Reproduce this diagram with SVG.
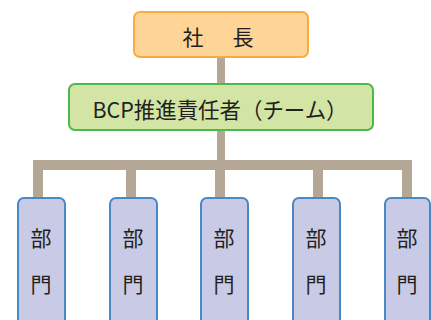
<svg xmlns="http://www.w3.org/2000/svg" width="431" height="320" viewBox="0 0 431 320">
<style>
text{font-family:"Noto Sans CJK JP","Noto Sans",sans-serif;fill:#231f20;text-anchor:middle;dominant-baseline:central}
.con{fill:#b5a795}
.dept rect{fill:#c9cae5;stroke:#4a87c7;stroke-width:2}
.dept text{font-size:21px}
</style>
<rect width="431" height="320" fill="#fff"/>
<g id="connectors">
<rect class="con" x="217" y="57" width="8" height="28"/>
<rect class="con" x="217" y="129" width="8" height="69"/>
<rect class="con" x="33" y="160" width="379" height="10"/>
<rect class="con" x="33" y="160" width="10" height="38"/>
<rect class="con" x="126" y="160" width="10" height="38"/>
<rect class="con" x="215" y="160" width="10" height="38"/>
<rect class="con" x="313" y="160" width="10" height="38"/>
<rect class="con" x="402" y="160" width="10" height="38"/>
</g>
<g id="president">
<rect x="134" y="12" width="174" height="45" rx="6" fill="#fed497" stroke="#f8ab3e" stroke-width="2"/>
<text x="220" y="36" font-size="21" letter-spacing="4">社　長</text>
</g>
<g id="bcp">
<rect x="69" y="84" width="304" height="46" rx="6" fill="#d3e5a4" stroke="#4db84a" stroke-width="2"/>
<text x="220" y="108" font-size="22" textLength="255" lengthAdjust="spacingAndGlyphs">BCP推進責任者（チーム）</text>
</g>
<g id="dept1" class="dept"><rect x="18" y="198" width="47" height="130" rx="6"/><text x="41" y="237">部</text><text x="41" y="283">門</text></g>
<g id="dept2" class="dept"><rect x="110" y="198" width="47" height="130" rx="6"/><text x="133" y="237">部</text><text x="133" y="283">門</text></g>
<g id="dept3" class="dept"><rect x="201" y="198" width="47" height="130" rx="6"/><text x="224" y="237">部</text><text x="224" y="283">門</text></g>
<g id="dept4" class="dept"><rect x="293" y="198" width="47" height="130" rx="6"/><text x="316" y="237">部</text><text x="316" y="283">門</text></g>
<g id="dept5" class="dept"><rect x="385" y="198" width="45" height="130" rx="6"/><text x="407" y="237">部</text><text x="407" y="283">門</text></g>
</svg>
